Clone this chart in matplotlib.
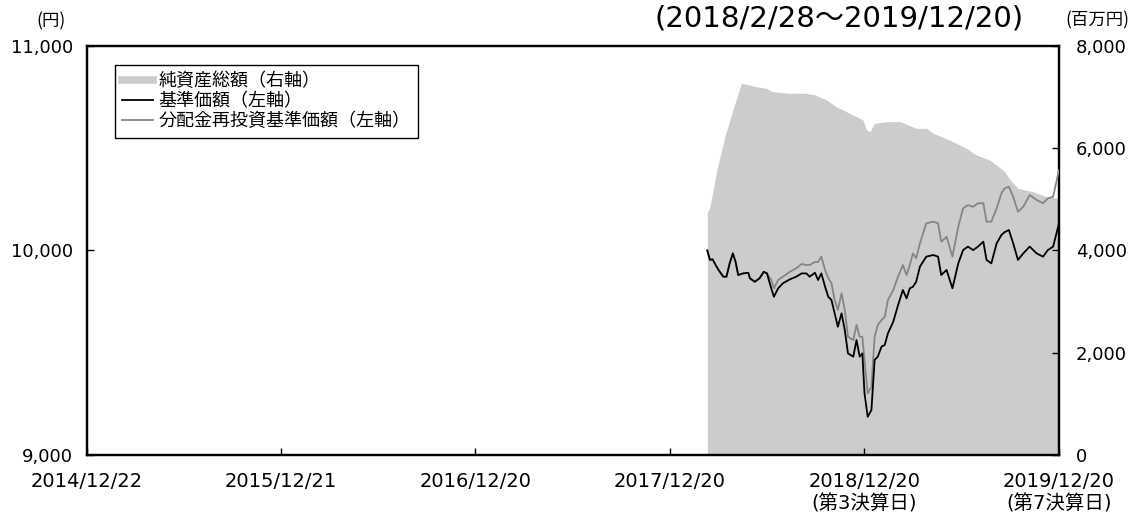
import matplotlib
matplotlib.use("Agg")
import matplotlib.pyplot as plt
from matplotlib.lines import Line2D
import pandas as pd

plt.rcParams['font.family'] = ['DejaVu Sans', 'Noto Sans CJK JP']

# ---- data ----
price_dates = [
    "2018-02-28", "2018-03-05", "2018-03-10", "2018-03-14", "2018-03-21", "2018-03-30",
    "2018-04-05", "2018-04-11", "2018-04-17", "2018-04-22", "2018-04-27", "2018-05-06",
    "2018-05-16", "2018-05-19", "2018-05-28", "2018-06-06", "2018-06-14", "2018-06-20",
    "2018-06-28", "2018-07-03", "2018-07-11", "2018-07-20", "2018-08-02", "2018-08-14",
    "2018-08-24", "2018-09-02", "2018-09-08", "2018-09-18", "2018-09-24", "2018-09-30",
    "2018-10-07", "2018-10-13", "2018-10-19", "2018-10-25", "2018-10-31", "2018-11-07",
    "2018-11-13", "2018-11-19", "2018-11-29", "2018-12-05", "2018-12-11", "2018-12-16",
    "2018-12-20", "2018-12-26", "2019-01-02", "2019-01-08", "2019-01-14", "2019-01-21",
    "2019-01-27", "2019-02-02", "2019-02-12", "2019-02-21", "2019-03-02", "2019-03-09",
    "2019-03-15", "2019-03-21", "2019-03-27", "2019-04-03", "2019-04-15", "2019-04-28",
    "2019-05-07", "2019-05-13", "2019-05-23", "2019-06-03", "2019-06-14", "2019-06-23",
    "2019-07-02", "2019-07-12", "2019-07-21", "2019-07-31", "2019-08-06", "2019-08-15",
    "2019-08-25", "2019-09-03", "2019-09-09", "2019-09-17", "2019-09-25", "2019-10-04",
    "2019-10-14", "2019-10-26", "2019-11-08", "2019-11-20", "2019-11-29", "2019-12-09",
    "2019-12-20",
]

nav = [
    10000, 9954, 9957, 9937, 9905, 9872,
    9872, 9937, 9986, 9945, 9880, 9888,
    9891, 9864, 9847, 9864, 9896, 9888,
    9815, 9774, 9815, 9840, 9859, 9872,
    9888, 9888, 9872, 9891, 9856, 9888,
    9823, 9774, 9758, 9693, 9627, 9693,
    9611, 9497, 9481, 9562, 9481, 9497,
    9302, 9187, 9220, 9465, 9481, 9530,
    9538, 9595, 9652, 9733, 9807, 9766,
    9815, 9823, 9847, 9921, 9970, 9978,
    9970, 9880, 9905, 9815, 9937, 10002,
    10019, 10002, 10019, 10043, 9954, 9937,
    10035, 10076, 10090, 10100, 10035, 9954,
    9986, 10019, 9986, 9970, 10002, 10019,
    10133,
]

nav_reinvested = [
    10000, 9954, 9957, 9937, 9905, 9872,
    9872, 9937, 9986, 9945, 9880, 9888,
    9891, 9864, 9847, 9864, 9896, 9888,
    9856, 9815, 9856, 9872, 9896, 9913,
    9934, 9929, 9929, 9944, 9944, 9970,
    9905, 9866, 9840, 9758, 9709, 9791,
    9709, 9578, 9562, 9636, 9578, 9578,
    9464, 9302, 9333, 9578, 9636, 9660,
    9676, 9758, 9807, 9872, 9929, 9880,
    9929, 9986, 9962, 10035, 10133, 10141,
    10133, 10043, 10067, 9970, 10116, 10206,
    10222, 10214, 10231, 10231, 10141, 10141,
    10206, 10280, 10304, 10312, 10263, 10190,
    10214, 10271, 10247, 10231, 10255, 10263,
    10394,
]

asset_dates = [
    "2018-02-28", "2018-03-05", "2018-03-18", "2018-04-02", "2018-04-17", "2018-04-27",
    "2018-05-03", "2018-05-19", "2018-05-31", "2018-06-19", "2018-07-01", "2018-08-02",
    "2018-09-02", "2018-09-18", "2018-10-10", "2018-10-28", "2018-11-16", "2018-12-05",
    "2018-12-17", "2018-12-24", "2018-12-30", "2019-01-08", "2019-01-30", "2019-02-25",
    "2019-03-27", "2019-04-15", "2019-04-28", "2019-05-29", "2019-06-29", "2019-07-18",
    "2019-08-12", "2019-09-06", "2019-09-25", "2019-10-04", "2019-11-01", "2019-11-26",
    "2019-12-20",
]
net_assets = [
    4733, 4857, 5574, 6226, 6748, 7075,
    7270, 7237, 7204, 7172, 7106, 7075,
    7075, 7042, 6944, 6813, 6715, 6617,
    6552, 6357, 6324, 6488, 6520, 6520,
    6390, 6390, 6292, 6161, 5999, 5868,
    5770, 5574, 5314, 5217, 5150, 5052,
    5020,
]

tick_dates = ["2014-12-22", "2015-12-21", "2016-12-20", "2017-12-20", "2018-12-20", "2019-12-20"]
tick_labels = ["2014/12/22", "2015/12/21", "2016/12/20", "2017/12/20",
               "2018/12/20\n(第3決算日)", "2019/12/20\n(第7決算日)"]
left_ticks = [9000, 10000, 11000]
right_ticks = [0, 2000, 4000, 6000, 8000]

legend_labels = ["純資産総額（右軸）", "基準価額（左軸）", "分配金再投資基準価額（左軸）"]
title_text = "(2018/2/28～2019/12/20)"

# ---- figure ----
W, H = 1132, 514
fig = plt.figure(figsize=(W / 100, H / 100), dpi=100)
ax = fig.add_axes([87 / W, 1 - 455 / H, (1059 - 87) / W, (455 - 46) / H])
ax2 = ax.twinx()
ax.set_zorder(ax2.get_zorder() + 1)
ax.patch.set_visible(False)

pdates = pd.to_datetime(price_dates)
adates = pd.to_datetime(asset_dates)

area_color = "#cccccc"
ax2.fill_between(adates, 0, net_assets, color=area_color, linewidth=0)
ax.plot(pdates, nav_reinvested, color="#858585", lw=1.3, zorder=3)
ax.plot(pdates, nav, color="black", lw=1.3, zorder=4)

ax.set_xlim(pd.Timestamp("2014-12-22"), pd.Timestamp("2019-12-20"))
ax.set_ylim(9000, 11000)
ax2.set_ylim(0, 8000)

ax.set_xticks(pd.to_datetime(tick_dates))
ax.set_xticklabels(tick_labels, fontsize=14, linespacing=1.2)
ax.set_yticks(left_ticks)
ax.set_yticklabels([f"{v:,}" for v in left_ticks], fontsize=13)
ax2.set_yticks(right_ticks)
ax2.set_yticklabels([f"{v:,}" for v in right_ticks], fontsize=13)

ax.tick_params(axis='x', direction='in', length=5, width=1, pad=12)
ax.tick_params(axis='y', direction='in', length=5, width=1, pad=10)
ax2.tick_params(axis='y', direction='in', length=5, width=1, pad=12)

for a in (ax, ax2):
    for s in a.spines.values():
        s.set_linewidth(1.6)
        s.set_color("black")

fig.text(36 / W, 1 - 21 / H, "(円)", fontsize=12.5, ha='left', va='center',
         family=['Noto Sans CJK JP', 'DejaVu Sans'])
fig.text(1129 / W, 1 - 20 / H, "(百万円)", fontsize=12.5, ha='right', va='center',
         family=['Noto Sans CJK JP', 'DejaVu Sans'])
fig.text(839 / W, 1 - 18 / H, title_text, fontsize=21, ha='center', va='center')

handles = [Line2D([0], [0], color=area_color, lw=5.5),
           Line2D([0], [0], color="black", lw=1.3),
           Line2D([0], [0], color="#858585", lw=1.3)]
leg = ax.legend(handles, legend_labels, loc='upper left',
                bbox_to_anchor=(115 / W, 1 - 65 / H), bbox_transform=fig.transFigure,
                borderaxespad=0, fancybox=False, framealpha=1, edgecolor='black',
                handlelength=1.7, handletextpad=0.3, labelspacing=0.12, borderpad=0.4,
                prop={'family': 'Noto Sans CJK JP', 'size': 13})
leg.get_frame().set_linewidth(1.0)

fig.savefig("out.png", dpi=100)
